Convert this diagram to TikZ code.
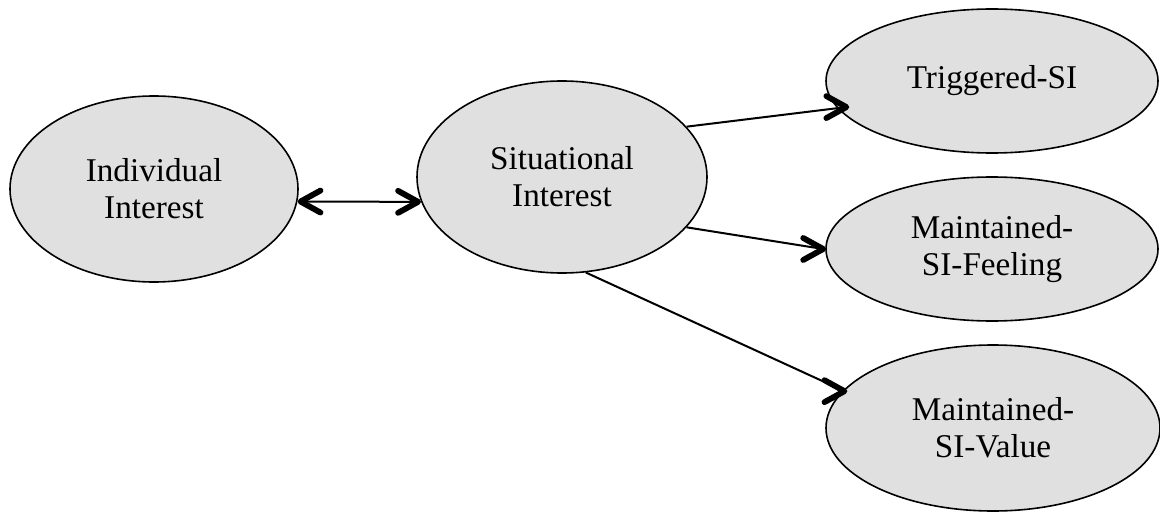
\documentclass[tikz,border=0pt]{standalone}
\usepackage{fontspec}
\setmainfont{Liberation Serif}
\usetikzlibrary{shapes.geometric,decorations.markings}
\definecolor{ovalgray}{RGB}{224,224,224}
\tikzset{
  oval/.style={ellipse, draw, line width=0.8pt, fill=ovalgray, align=center, inner sep=0pt,
    font=\fontsize{16.6}{18.5}\selectfont},
  barb/.pic={\draw[line width=2.9pt, line cap=round, line join=round] (-10pt,5.5pt) -- (0,0) -- (-10pt,-5.5pt);},
  link/.style={line width=1pt, postaction={decorate, decoration={markings,
    mark=at position 1 with {\pic {barb};}}}},
  twoway/.style={line width=1pt, postaction={decorate, decoration={markings,
    mark=at position 0 with {\pic[rotate=180] {barb};},
    mark=at position 1 with {\pic {barb};}}}}
}
\begin{document}
\begin{tikzpicture}[x=0.5pt, y=-0.5pt]
  \useasboundingbox (0,0) rectangle (1160,513);
  % main constructs
  \node[oval, minimum width=144pt, minimum height=93pt] (ind) at (154,189) {Individual\\Interest};
  \node[oval, minimum width=145pt, minimum height=96pt] (sit) at (562,177) {Situational\\Interest};
  % components of situational interest
  \node[oval, minimum width=166pt, minimum height=72pt] (trig) at (992,81) {Triggered-SI};
  \node[oval, minimum width=166pt, minimum height=72pt] (feel) at (992,249) {Maintained-\\SI-Feeling};
  \node[oval, minimum width=167pt, minimum height=83pt] (val) at (993,428) {Maintained-\\SI-Value};
  \draw[twoway] ([xshift=1.5pt]ind.-5) -- ([xshift=-1.5pt]sit.190);
  \draw[link] (sit.22) -- ([xshift=4.5pt,yshift=0.6pt]trig.190);
  \draw[link] (sit.-22) -- ([xshift=-1pt]feel.180);
  \draw[link] (sit.-76) -- ([xshift=0.8pt,yshift=-0.3pt]val.166);
\end{tikzpicture}
\end{document}
